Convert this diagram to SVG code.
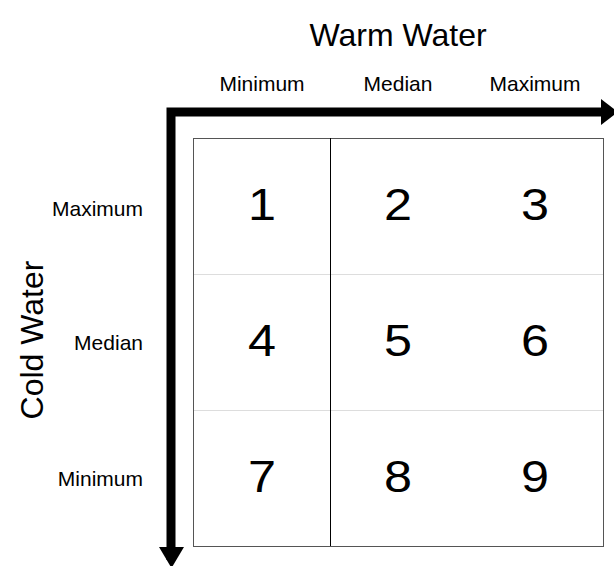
<svg xmlns="http://www.w3.org/2000/svg" width="614" height="566" viewBox="0 0 614 566">
<style>
text{font-family:"Liberation Sans",Arial,sans-serif;fill:#000}
.t{font-size:32px;text-anchor:middle}
.h{font-size:21px;text-anchor:middle}
.r{font-size:21px;text-anchor:end}
.n{font-size:45px;text-anchor:middle}
</style>
<rect width="614" height="566" fill="#fff"/>
<g id="axes">
<path d="M171,560 V112 H604" fill="none" stroke="#000" stroke-width="9" stroke-linejoin="miter"/>
<polygon points="601,99 618,112 601,125" fill="#000"/>
<polygon points="159,547 184,547 171.5,568" fill="#000"/>
</g>
<g id="grid">
<rect x="193.5" y="138.5" width="410" height="408" fill="#fff" stroke="#555" stroke-width="1"/>
<line x1="194" y1="274.5" x2="603" y2="274.5" stroke="#ddd"/>
<line x1="194" y1="410.5" x2="603" y2="410.5" stroke="#ddd"/>
<line x1="330.5" y1="138" x2="330.5" y2="546" stroke="#000"/>
</g>
<g id="labels">
<text class="t" x="398" y="46">Warm Water</text>
<text class="h" x="262" y="91">Minimum</text>
<text class="h" x="398" y="91">Median</text>
<text class="h" x="535" y="91">Maximum</text>
<text class="t" transform="translate(43,340) rotate(-90)">Cold Water</text>
<text class="r" x="143" y="216">Maximum</text>
<text class="r" x="143" y="350">Median</text>
<text class="r" x="143" y="486">Minimum</text>
</g>
<g id="cells">
<text class="n" transform="translate(262,220) scale(1.12,1)">1</text>
<text class="n" transform="translate(398,220) scale(1.12,1)">2</text>
<text class="n" transform="translate(535,220) scale(1.12,1)">3</text>
<text class="n" transform="translate(262,356) scale(1.12,1)">4</text>
<text class="n" transform="translate(398,356) scale(1.12,1)">5</text>
<text class="n" transform="translate(535,356) scale(1.12,1)">6</text>
<text class="n" transform="translate(262,492) scale(1.12,1)">7</text>
<text class="n" transform="translate(398,492) scale(1.12,1)">8</text>
<text class="n" transform="translate(535,492) scale(1.12,1)">9</text>
</g>
</svg>
